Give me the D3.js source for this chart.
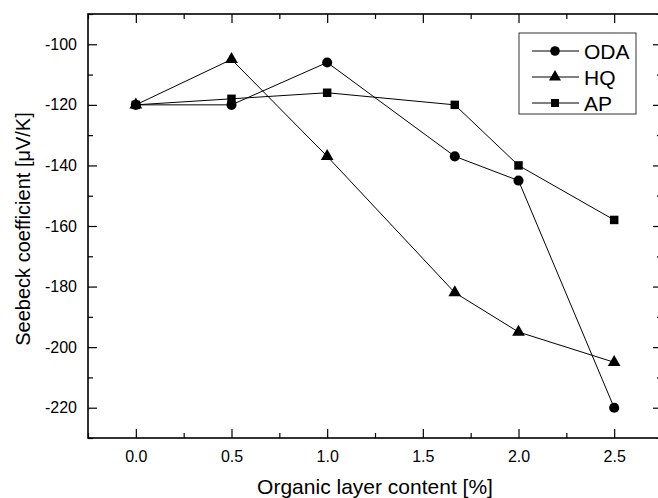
<!DOCTYPE html>
<html>
<head>
<meta charset="utf-8">
<script src="https://cdnjs.cloudflare.com/ajax/libs/d3/7.8.5/d3.min.js"></script>
<style>
  body { margin: 0; background: #fff; }
  svg { display: block; font-family: "Liberation Sans", Arial, sans-serif; }
</style>
</head>
<body>
<svg width="658" height="498"></svg>
<script>
// data
var xValues = [0, 0.5, 1.0, 1.667, 2.0, 2.5];
var seriesNames = ['ODA', 'HQ', 'AP'];
var odaValues = [-120, -120, -106, -137, -145, -220];
var hqValues = [-120, -105, -137, -182, -195, -205];
var apValues = [-120, -118, -116, -120, -140, -158];
var xTicks = [0, 0.5, 1.0, 1.5, 2.0, 2.5];
var yTicks = [-220, -200, -180, -160, -140, -120, -100];

var series = [
    {name: 'ODA', values: odaValues, symbol: d3.symbolCircle, size: 80},
    {name: 'HQ', values: hqValues, symbol: d3.symbolTriangle, size: 70},
    {name: 'AP', values: apValues, symbol: d3.symbolSquare, size: 72}
];

var svg = d3.select('svg');

var padding = {t: 14, l: 88};
var chartWidth = 574;   // right frame sits just past the window edge
var chartHeight = 424;

var chartG = svg.append('g')
    .attr('transform', 'translate(' + [padding.l, padding.t] + ')');

var xScale = d3.scaleLinear().domain([-0.25, 2.75]).range([0, chartWidth]);
var yScale = d3.scaleLinear().domain([-230, -90]).range([chartHeight, 0]);

var xMinor = d3.range(-0.25, 2.76, 0.25).filter(function(v) { return Math.abs(v * 2 - Math.round(v * 2)) > 0.01; });
var yMinor = d3.range(-230, -89, 10).filter(function(v) { return v % 20 !== 0; });

// plain hyphen for negatives, as in the original
function yFormat(d) { return String(d); }

function styleAxis(g) {
    g.select('.domain').remove();
    g.attr('font-size', null).attr('font-family', null);
    g.selectAll('line').attr('stroke', '#000').attr('stroke-width', 1.2);
    g.selectAll('text').attr('fill', '#000').style('font-size', '16px')
        .style('font-family', '"Liberation Sans", Arial, sans-serif');
}

// bottom axis, ticks pointing inward
var xAxisG = chartG.append('g').attr('transform', 'translate(0,' + chartHeight + ')');
xAxisG.call(d3.axisBottom(xScale).tickValues(xTicks).tickSizeInner(-9).tickSizeOuter(0)
    .tickPadding(13).tickFormat(d3.format('.1f')));
xAxisG.call(styleAxis);
xAxisG.append('g').call(d3.axisBottom(xScale).tickValues(xMinor).tickSizeInner(-5).tickSizeOuter(0).tickFormat(''))
    .call(styleAxis);

// left axis
var yAxisG = chartG.append('g');
yAxisG.call(d3.axisLeft(yScale).tickValues(yTicks).tickSizeInner(-9).tickSizeOuter(0)
    .tickPadding(11).tickFormat(yFormat));
yAxisG.call(styleAxis);
yAxisG.append('g').call(d3.axisLeft(yScale).tickValues(yMinor).tickSizeInner(-5).tickSizeOuter(0).tickFormat(''))
    .call(styleAxis);

// top axis
var topG = chartG.append('g');
topG.call(d3.axisTop(xScale).tickValues(xTicks).tickSizeInner(-9).tickSizeOuter(0).tickFormat('')).call(styleAxis);
topG.append('g').call(d3.axisTop(xScale).tickValues(xMinor).tickSizeInner(-5).tickSizeOuter(0).tickFormat('')).call(styleAxis);

// right axis
var rightG = chartG.append('g').attr('transform', 'translate(' + chartWidth + ',0)');
rightG.call(d3.axisRight(yScale).tickValues(yTicks).tickSizeInner(-9).tickSizeOuter(0).tickFormat('')).call(styleAxis);
rightG.append('g').call(d3.axisRight(yScale).tickValues(yMinor).tickSizeInner(-5).tickSizeOuter(0).tickFormat('')).call(styleAxis);

// frame
chartG.append('rect')
    .attr('width', chartWidth).attr('height', chartHeight)
    .attr('fill', 'none').attr('stroke', '#000').attr('stroke-width', 1.6);

var line = d3.line()
    .x(function(d, i) { return xScale(xValues[i]); })
    .y(function(d) { return yScale(d); });

series.forEach(function(s) {
    chartG.append('path')
        .attr('d', line(s.values))
        .attr('fill', 'none').attr('stroke', '#000').attr('stroke-width', 1);
    chartG.selectAll('.pt-' + s.name)
        .data(s.values)
        .enter().append('path')
        .attr('class', 'pt-' + s.name)
        .attr('d', d3.symbol().type(s.symbol).size(s.size))
        .attr('transform', function(d, i) {
            return 'translate(' + [xScale(xValues[i]), yScale(d)] + ')';
        })
        .attr('fill', '#000');
});

// legend
var legendG = svg.append('g').attr('transform', 'translate(519,33)');
legendG.append('rect')
    .attr('width', 117).attr('height', 81)
    .attr('fill', '#fff').attr('stroke', '#333').attr('stroke-width', 1);
series.forEach(function(s, i) {
    var row = legendG.append('g').attr('transform', 'translate(0,' + (18 + i * 26) + ')');
    row.append('line').attr('x1', 13).attr('x2', 60).attr('stroke', '#000').attr('stroke-width', 1);
    row.append('path')
        .attr('d', d3.symbol().type(s.symbol).size(s.size * 0.9))
        .attr('transform', 'translate(36,0)').attr('fill', '#000');
    row.append('text')
        .attr('x', 65).attr('y', 7.5)
        .attr('font-size', '21px').attr('fill', '#000')
        .text(seriesNames[i]);
});

// axis titles
svg.append('text')
    .attr('x', padding.l + chartWidth / 2).attr('y', 494)
    .attr('text-anchor', 'middle').attr('font-size', '21px').attr('fill', '#000')
    .text('Organic layer content [%]');
svg.append('text')
    .attr('transform', 'translate(30,229) rotate(-90)')
    .attr('text-anchor', 'middle').attr('font-size', '20px').attr('fill', '#000')
    .text('Seebeck coefficient [\u03bcV/K]');
</script>
</body>
</html>
